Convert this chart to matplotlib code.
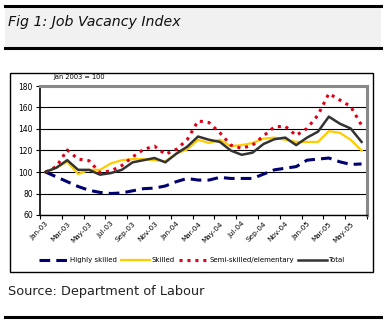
import numpy as np
import matplotlib
matplotlib.use('Agg')
import matplotlib.pyplot as plt
from matplotlib.patches import Rectangle
from matplotlib.lines import Line2D

# month labels (every second month is shown)
months = ['Jan-03', 'Feb-03', 'Mar-03', 'Apr-03', 'May-03', 'Jun-03',
          'Jul-03', 'Aug-03', 'Sep-03', 'Oct-03', 'Nov-03', 'Dec-03',
          'Jan-04', 'Feb-04', 'Mar-04', 'Apr-04', 'May-04', 'Jun-04',
          'Jul-04', 'Aug-04', 'Sep-04', 'Oct-04', 'Nov-04', 'Dec-04',
          'Jan-05', 'Feb-05', 'Mar-05', 'Apr-05', 'May-05', 'Jun-05']

# index values, Jan 2003 = 100
highly_skilled = [100, 95.5, 91, 86.5, 83, 81, 80, 80.5, 82.5, 84.5, 85, 87,
                  91, 94, 92.5, 92.5, 95, 94, 94, 94, 98, 102, 103.5, 105,
                  111, 112, 113, 109.5, 107, 107.5]
skilled = [100, 104, 109.5, 98, 102, 102, 108, 111, 112, 112, 111, 110,
           117, 121, 130, 127, 130, 124, 125, 127, 131, 132, 130, 128,
           128, 128, 138, 136.5, 130, 120]
semi_skilled = [100, 105, 120.5, 112, 110.5, 99.5, 101, 106, 114, 121, 124, 116.5,
                121, 130, 147.5, 146, 136.5, 125, 122, 125, 133.5, 142, 142.5, 134,
                140.5, 153, 173, 167, 161, 143.5]
total = [100, 104, 111, 102, 102, 97.5, 99, 102, 109, 111, 113, 109,
         117, 123.5, 133, 130, 128, 120, 116, 118, 126, 130.5, 132, 125,
         132, 137.5, 151.5, 145, 140.5, 128]

fig = plt.figure(figsize=(3.86, 3.22), dpi=100)
W, H = 386.0, 322.0

# title bar
fig.add_artist(Rectangle((5 / W, 1 - 48 / H), 376 / W, 42 / H, transform=fig.transFigure,
                         facecolor='#f1f1f1', edgecolor='none', zorder=0))
fig.add_artist(Line2D([5 / W, 381 / W], [1 - 6 / H, 1 - 6 / H], color='black', lw=2.2))
fig.add_artist(Line2D([5 / W, 381 / W], [1 - 48 / H, 1 - 48 / H], color='black', lw=2.2))
fig.text(8 / W, 1 - 22 / H, 'Fig 1: Job Vacancy Index', fontsize=10.2, style='italic',
         va='center', ha='left', color='#111111')

# chart box
fig.add_artist(Rectangle((10 / W, 1 - 272 / H), 363 / W, 199 / H, transform=fig.transFigure,
                         facecolor='white', edgecolor='black', lw=1.0, zorder=0))
fig.text(53 / W, 1 - 77 / H, 'Jan 2003 = 100', fontsize=4.8, va='center', ha='left')

# source and bottom rule
fig.text(8 / W, 1 - 292 / H, 'Source: Department of Labour', fontsize=9.3,
         va='center', ha='left', color='#222222')
fig.add_artist(Line2D([5 / W, 381 / W], [1 - 317 / H, 1 - 317 / H], color='black', lw=2.2))

ax = fig.add_axes([40 / W, 1 - 215 / H, 327 / W, 129 / H])
x = np.arange(len(months))

ax.plot(x, highly_skilled, color='#000070', lw=2.2, linestyle=(0, (3.5, 2)),
        dash_capstyle='butt', label='Highly skilled')
ax.plot(x, skilled, color='#FFCC00', lw=1.6, label='Skilled')
ax.plot(x, semi_skilled, color='#E00018', lw=2.2, linestyle=(0, (1, 1.6)),
        dash_capstyle='butt', label='Semi-skilled/elementary')
ax.plot(x, total, color='#333333', lw=1.8, label='Total')

ax.set_ylim(60, 180)
ax.set_yticks(np.arange(60, 181, 20))
ax.set_xlim(-0.5, len(months) - 0.5)

# tick marks between categories, labels on every second month
ax.set_xticks(np.arange(-0.5, len(months), 2))
ax.set_xticklabels([])
ax.set_xticks(x[::2], minor=True)
ax.set_xticklabels(months[::2], minor=True, rotation=45, ha='right',
                   rotation_mode='anchor', fontsize=5.2)
ax.tick_params(axis='x', which='minor', length=0, pad=4)
ax.tick_params(axis='x', which='major', length=3, width=0.8, direction='out')
ax.tick_params(axis='y', length=3, width=0.8, labelsize=5.5, pad=2)

ax.grid(axis='y', color='black', lw=0.8)
ax.set_axisbelow(True)
for side in ['top', 'right']:
    ax.spines[side].set_color('#888888')
    ax.spines[side].set_linewidth(2.2)
ax.spines['left'].set_linewidth(1.2)
ax.spines['bottom'].set_linewidth(1.0)

fig.legend(loc='center', bbox_to_anchor=(192 / W, 1 - 260 / H), ncol=4, frameon=False,
           fontsize=5, handlelength=4.2, handletextpad=0.2, columnspacing=0.6)

fig.savefig('out.png', dpi=100)
